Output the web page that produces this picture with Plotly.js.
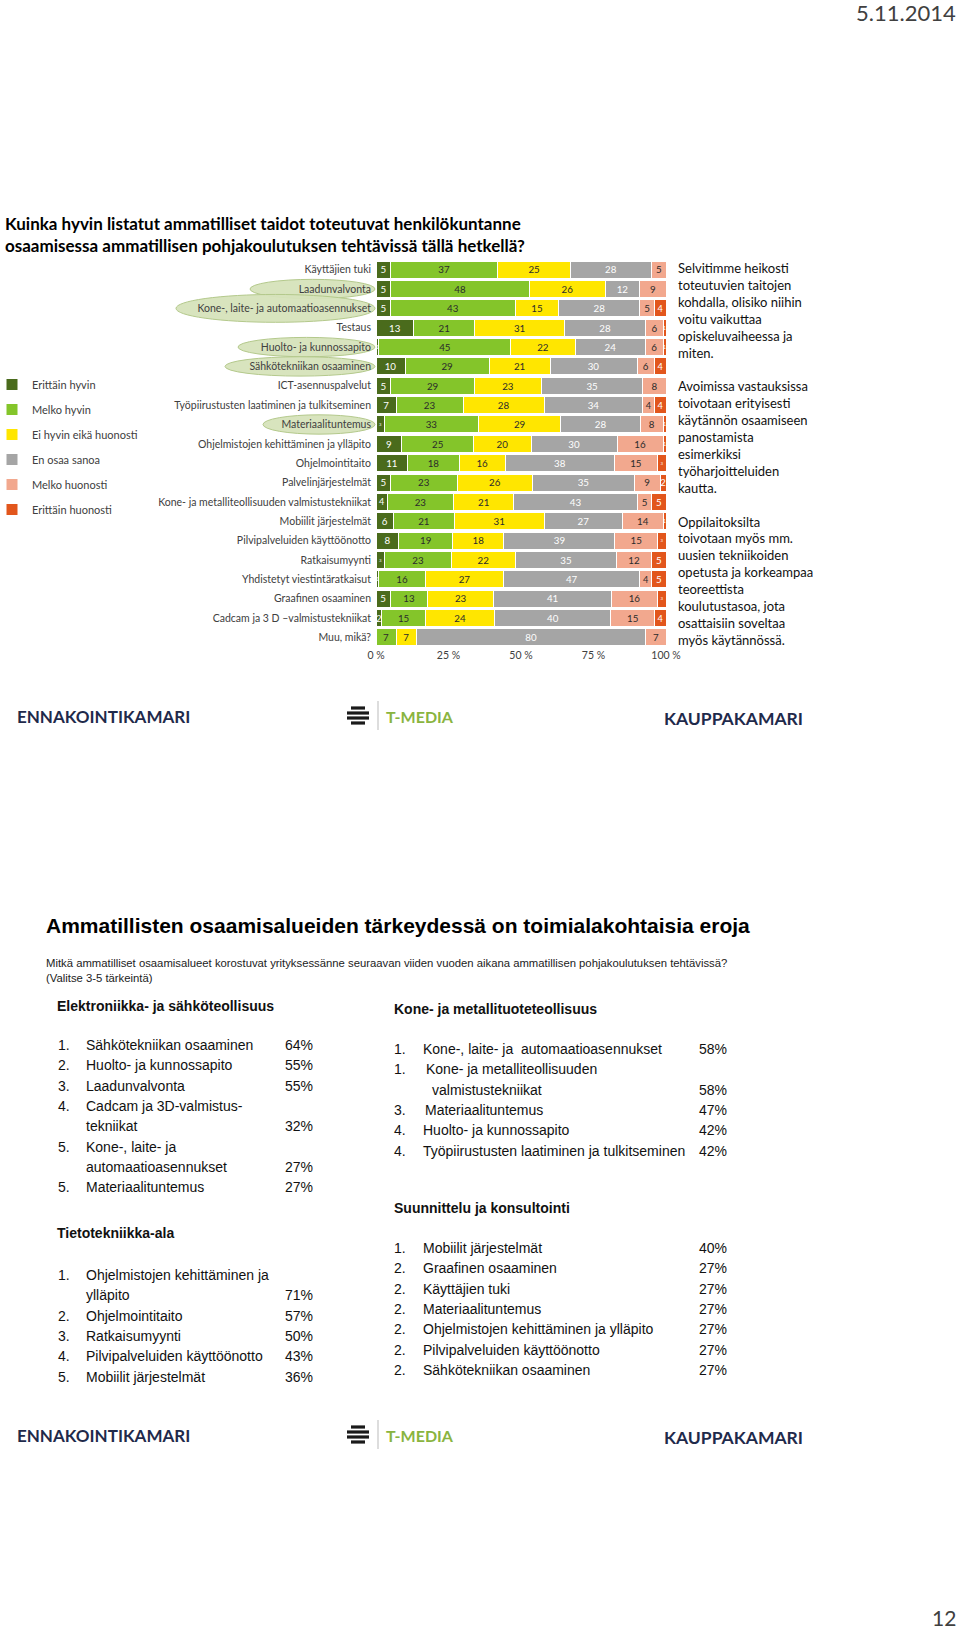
<!DOCTYPE html>
<html>
<head>
<meta charset="utf-8">
<script src="https://cdn.plot.ly/plotly-3.0.1.min.js"></script>
<style>html,body{margin:0;padding:0;background:#fff;}#chart{width:960px;height:1631px;}</style>
</head>
<body>
<div id="chart"></div>
<script>
// ---------- data ----------
const categories = [
  'Käyttäjien tuki','Laadunvalvonta','Kone-, laite- ja automaatioasennukset','Testaus',
  'Huolto- ja kunnossapito','Sähkötekniikan osaaminen','ICT-asennuspalvelut',
  'Työpiirustusten laatiminen ja tulkitseminen','Materiaalituntemus',
  'Ohjelmistojen kehittäminen ja ylläpito','Ohjelmointitaito','Palvelinjärjestelmät',
  'Kone- ja metalliteollisuuden valmistustekniikat','Mobiilit järjestelmät',
  'Pilvipalveluiden käyttöönotto','Ratkaisumyynti','Yhdistetyt viestintäratkaisut',
  'Graafinen osaaminen','Cadcam ja 3 D –valmistustekniikat','Muu, mikä?'
];
const erittainHyvin     = [5,5,5,13,1,10,5,7,3,9,11,5,4,6,8,3,1,5,2,0];
const melkoHyvin        = [37,48,43,21,45,29,29,23,33,25,18,23,23,21,19,23,16,13,15,7];
const eiHyvinEikaHuono  = [25,26,15,31,22,21,23,28,29,20,16,26,21,31,18,22,27,23,24,7];
const enOsaaSanoa       = [28,12,28,28,24,30,35,34,28,30,38,35,43,27,39,35,47,41,40,80];
const melkoHuonosti     = [5,9,5,6,6,6,8,4,8,16,15,9,5,14,15,12,4,16,15,7];
const erittainHuonosti  = [0,0,4,1,1,4,0,4,1,1,3,2,5,1,3,5,5,3,4,0];
const seriesNames = ['Erittäin hyvin','Melko hyvin','Ei hyvin eikä huonosti','En osaa sanoa','Melko huonosti','Erittäin huonosti'];
const highlighted = ['Laadunvalvonta','Kone-, laite- ja automaatioasennukset','Huolto- ja kunnossapito','Sähkötekniikan osaaminen','Materiaalituntemus'];
const xTicks = [0,25,50,75,100];
const xTickText = ['0 %','25 %','50 %','75 %','100 %'];

const chartTitle = 'Kuinka hyvin listatut ammatilliset taidot toteutuvat henkilökuntanne<br>osaamisessa ammatillisen pohjakoulutuksen tehtävissä tällä hetkellä?';
const sideText = [
  'Selvitimme heikosti','toteutuvien taitojen','kohdalla, olisiko niihin','voitu vaikuttaa','opiskeluvaiheessa ja','miten.','',
  'Avoimissa vastauksissa','toivotaan erityisesti','käytännön osaamiseen','panostamista','esimerkiksi','työharjoitteluiden','kautta.','',
  'Oppilaitoksilta','toivotaan myös mm.','uusien tekniikoiden','opetusta ja korkeampaa','teoreettista','koulutustasoa, jota','osattaisiin soveltaa','myös käytännössä.'
];

const section2Title = 'Ammatillisten osaamisalueiden tärkeydessä on toimialakohtaisia eroja';
const section2Question = 'Mitkä ammatilliset osaamisalueet korostuvat yrityksessänne seuraavan viiden vuoden aikana ammatillisen pohjakoulutuksen tehtävissä?<br>(Valitse 3-5 tärkeintä)';

const elektroHeader = 'Elektroniikka- ja sähköteollisuus';
const elektroRank  = ['1.','2.','3.','4.','','5.','','5.'];
const elektroItems = ['Sähkötekniikan osaaminen','Huolto- ja kunnossapito','Laadunvalvonta','Cadcam ja 3D-valmistus-','tekniikat','Kone-, laite- ja','automaatioasennukset','Materiaalituntemus'];
const elektroPct   = ['64%','55%','55%','','32%','','27%','27%'];

const tietoHeader = 'Tietotekniikka-ala';
const tietoRank  = ['1.','','2.','3.','4.','5.'];
const tietoItems = ['Ohjelmistojen kehittäminen ja','ylläpito','Ohjelmointitaito','Ratkaisumyynti','Pilvipalveluiden käyttöönotto','Mobiilit järjestelmät'];
const tietoPct   = ['','71%','57%','50%','43%','36%'];

const koneHeader = 'Kone- ja metallituoteteollisuus';
const koneRank  = ['1.','1.','','3.','4.','4.'];
const koneItems = ['Kone-, laite- ja  automaatioasennukset','Kone- ja metalliteollisuuden','valmistustekniikat','Materiaalituntemus','Huolto- ja kunnossapito','Työpiirustusten laatiminen ja tulkitseminen'];
const konePct   = ['58%','','58%','47%','42%','42%'];

const suunHeader = 'Suunnittelu ja konsultointi';
const suunRank  = ['1.','2.','2.','2.','2.','2.','2.'];
const suunItems = ['Mobiilit järjestelmät','Graafinen osaaminen','Käyttäjien tuki','Materiaalituntemus','Ohjelmistojen kehittäminen ja ylläpito','Pilvipalveluiden käyttöönotto','Sähkötekniikan osaaminen'];
const suunPct   = ['40%','27%','27%','27%','27%','27%','27%'];

// ---------- styles / geometry ----------
const colors = ['#4a6b1c','#84c52a','#ffe600','#a5a5a5','#f2a88e','#e2561c'];
const textColors = ['#ffffff','#2b2b2b','#2b2b2b','#ffffff','#2b2b2b','#ffffff'];
const W = 960, H = 1631, L = 376, R = 666, T = 260, B = 647;
const PW = R - L, PH = B - T;
const ax = X => (X - L) / PW;
const ay = Y => (B - Y) / PH;
const lato = 'Lato, "Open Sans", sans-serif';
const arial = '"Liberation Sans", Arial, sans-serif';

const allSeries = [erittainHyvin, melkoHyvin, eiHyvinEikaHuono, enOsaaSanoa, melkoHuonosti, erittainHuonosti];
const traces = allSeries.map((vals, k) => ({
  type: 'bar', orientation: 'h', name: seriesNames[k], legendgroup: 'g' + k,
  x: vals, y: categories,
  text: vals.map(v => v > 0 ? String(v) : ''),
  textposition: 'inside', insidetextanchor: 'middle', textangle: 0,
  textfont: {family: lato, size: 11.5, color: textColors[k]},
  marker: {color: colors[k], line: {color: '#ffffff', width: 1}},
  hoverinfo: 'name+x+y'
}));

const annotations = [];
const shapes = [];
function addText(X, Y, text, opts) {
  annotations.push(Object.assign({
    xref: 'paper', yref: 'paper', x: ax(X), y: ay(Y), text: text, showarrow: false,
    xanchor: 'left', yanchor: 'middle', align: 'left'
  }, opts));
}

// date & page number
addText(958, 13, '5.11.2014', {xanchor: 'right', font: {family: lato, size: 22, color: '#404040'}});
addText(958, 1617, '12', {xanchor: 'right', font: {family: lato, size: 21, color: '#404040'}});

// side text
addText(676, 258, sideText.map(s => s === '' ? ' ' : s).join('<br>'), {yanchor: 'top', font: {family: lato, size: 13, color: '#111111'}});

// logos
function logos(Y) {
  addText(15, Y, '<b>ENNAKOINTIKAMARI</b>', {font: {family: lato, size: 17, color: '#1f2a4b'}});
  addText(662, Y + 2, '<b>KAUPPAKAMARI</b>', {font: {family: lato, size: 17.5, color: '#1f2a4b'}});
  addText(384, Y, '<b>T-MEDIA</b>', {font: {family: lato, size: 16, color: '#8ab43f'}});
  shapes.push({type: 'line', xref: 'paper', yref: 'paper', x0: ax(378), x1: ax(378), y0: ay(Y - 15), y1: ay(Y + 14), line: {color: '#bbbbbb', width: 1}});
  const stripes = [[-8, 7], [-3, 11], [2, 11], [7, 7]];
  stripes.forEach(([dy, hw]) => shapes.push({type: 'line', xref: 'paper', yref: 'paper',
    x0: ax(358 - hw), x1: ax(358 + hw), y0: ay(Y + dy), y1: ay(Y + dy), line: {color: '#1a1a1a', width: 3.2}}));
}
logos(716);
logos(1435);

// section 2
addText(44, 925, '<b>' + section2Title + '</b>', {font: {family: arial, size: 21, color: '#000000'}});
addText(44, 970, section2Question, {font: {family: arial, size: 11.3, color: '#222222'}});
function list(header, hx, hy, ranks, items, pcts, nx, tx, px, y0, indents) {
  addText(hx, hy, '<b>' + header + '</b>', {font: {family: arial, size: 14, color: '#111111'}});
  items.forEach((it, i) => {
    const y = y0 + i * 20.3;
    const f = {family: arial, size: 14, color: '#111111'};
    if (ranks[i]) addText(nx, y, ranks[i], {font: f});
    addText(tx + (indents ? indents[i] : 0), y, it, {font: f});
    if (pcts[i]) addText(px, y, pcts[i], {font: f});
  });
}
list(elektroHeader, 55, 1006, elektroRank, elektroItems, elektroPct, 56, 84, 283, 1045);
list(tietoHeader, 55, 1233, tietoRank, tietoItems, tietoPct, 56, 84, 283, 1275);
list(koneHeader, 392, 1009, koneRank, koneItems, konePct, 392, 421, 697, 1049, [0, 3, 9, 2, 0, 0]);
list(suunHeader, 392, 1208, suunRank, suunItems, suunPct, 392, 421, 697, 1248);

// highlight ellipses behind category labels
const ellipseLeft = {'Laadunvalvonta': 250, 'Kone-, laite- ja automaatioasennukset': 176, 'Huolto- ja kunnossapito': 238, 'Sähkötekniikan osaaminen': 225, 'Materiaalituntemus': 263};
highlighted.forEach(c => {
  const i = categories.indexOf(c);
  const hh = c.length > 30 ? 0.72 : 0.5;
  shapes.push({type: 'circle', layer: 'below', xref: 'paper', yref: 'y',
    x0: ax(ellipseLeft[c]), x1: ax(375), y0: i - hh, y1: i + hh,
    fillcolor: 'rgba(214,227,186,0.95)', line: {color: '#b4c98c', width: 1}});
});

const layout = {
  width: W, height: H,
  margin: {l: L, r: W - R, t: T, b: H - B, pad: 0, autoexpand: false},
  paper_bgcolor: '#ffffff', plot_bgcolor: '#ffffff',
  barmode: 'stack', barnorm: 'percent', bargap: 0.12,
  font: {family: lato, color: '#404040'},
  title: {text: '<b>' + chartTitle + '</b>', xref: 'container', yref: 'container', x: 5 / W, xanchor: 'left',
    y: 1 - 230 / H, yanchor: 'middle', font: {family: lato, size: 17, color: '#000000'}},
  xaxis: {range: [0, 100], tickmode: 'array', tickvals: xTicks, ticktext: xTickText, showgrid: false, zeroline: false,
    showline: false, ticks: '', tickfont: {family: lato, size: 10.5, color: '#404040'}, fixedrange: true, automargin: false},
  yaxis: {type: 'category', autorange: 'reversed', showgrid: false, zeroline: false, showline: false, automargin: false,
    ticks: '', ticklabelstandoff: 4, tickfont: {family: lato, size: 10.5, color: '#404040'}, fixedrange: true},
  showlegend: true,
  legend: {xref: 'paper', yref: 'paper', x: ax(-8), y: ay(370), xanchor: 'left', yanchor: 'top',
    traceorder: 'grouped', tracegroupgap: 6, font: {family: lato, size: 11, color: '#404040'}, bgcolor: 'rgba(0,0,0,0)'},
  annotations: annotations,
  shapes: shapes
};

Plotly.newPlot('chart', traces, layout, {displayModeBar: false, staticPlot: true});
</script>
</body>
</html>
